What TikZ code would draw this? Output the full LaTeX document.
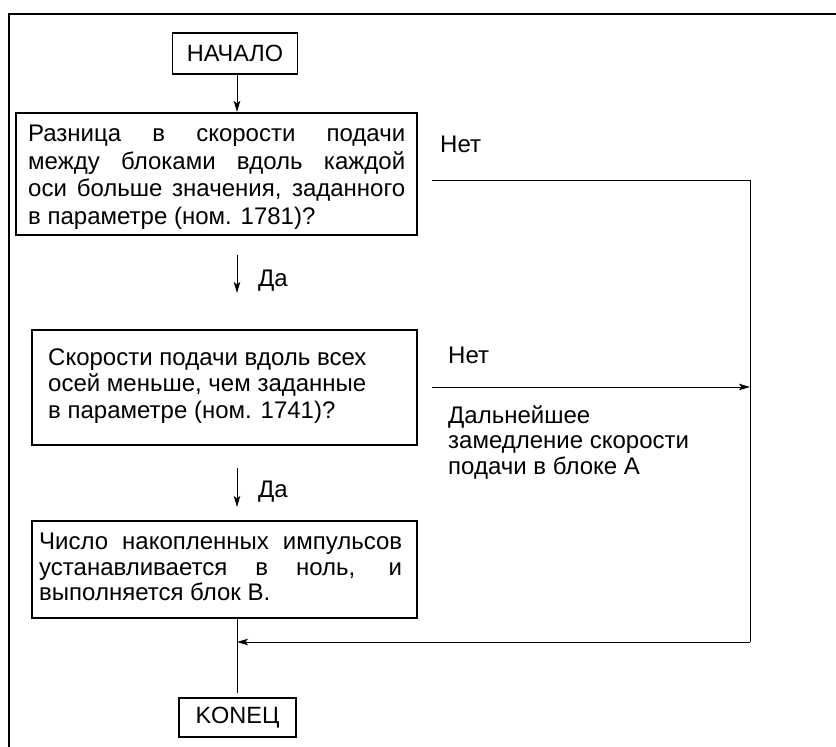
\documentclass[tikz,border=0pt]{standalone}
\usepackage{fontspec}
\setmainfont{Liberation Sans}
\usetikzlibrary{arrows.meta}
\tikzset{
  txt/.style={anchor=base west, inner sep=0pt, font=\fontsize{24}{28}\selectfont},
  termbox/.style={draw, line width=1.6pt, rectangle, inner sep=0pt, font=\fontsize{23.5}{28}\selectfont},
  qbox/.style={draw, line width=2pt, rectangle, inner sep=0pt},
  conn/.style={line width=1pt},
  arr/.style={line width=1pt, -{Stealth[length=11pt,width=6.5pt,inset=2.5pt]}},
  frame/.style={line width=2.2pt}
}
\begin{document}
\begin{tikzpicture}[x=1pt,y=-1pt]
\useasboundingbox (0,0) rectangle (836,747);
% outer frame (top and left visible)
\coordinate (fbl) at (9,747);
\coordinate (ftl) at (9,14);
\coordinate (ftr) at (836,14);
\draw[frame] (fbl) -- (ftl) -- (ftr);

% terminal boxes
\node[termbox, minimum width=125pt, minimum height=41pt] (start) at (235,53.5) {НАЧАЛО};
\node[termbox, minimum width=117pt, minimum height=39pt] (stop) at (237.5,717.5) {KONEЦ};

% question / action boxes
\node[qbox, line width=2.2pt, minimum width=401pt, minimum height=122pt] (q1) at (216.5,174) {};
\node[qbox, line width=1.8pt, minimum width=385pt, minimum height=115pt] (q2) at (224.5,387.5) {};
\node[qbox, line width=1.8pt, minimum width=385pt, minimum height=97pt] (q3) at (224.5,569.5) {};

% box 1 text
\node[txt] (q1a) at (28,141.5) {\makebox[377pt][s]{Разница в скорости подачи}};
\node[txt] (q1b) at (28,169) {\makebox[377pt][s]{между блоками вдоль каждой}};
\node[txt] (q1c) at (28,196.5) {\makebox[377pt][s]{оси больше значения, заданного}};
\node[txt] (q1d) at (28,224) {в параметре (ном. 1781)?};

% box 2 text
\node[txt] (q2a) at (48,365) {Скорости подачи вдоль всех};
\node[txt] (q2b) at (48,391.5) {осей меньше, чем заданные};
\node[txt] (q2c) at (48,418) {в параметре (ном. 1741)?};

% box 3 text
\node[txt] (q3a) at (39,549) {\makebox[363pt][s]{Число накопленных импульсов}};
\node[txt] (q3b) at (39,575) {\makebox[363pt][s]{устанавливается в ноль, и}};
\node[txt] (q3c) at (39,600.5) {выполняется блок В.};

% labels
\node[txt] (no1) at (440,152) {Нет};
\node[txt] (yes1) at (258,286) {Да};
\node[txt] (no2) at (448,363) {Нет};
\node[txt] (yes2) at (258,497) {Да};
\node[txt] (na) at (448,423) {Дальнейшее};
\node[txt] (nb) at (448,448.5) {замедление скорости};
\node[txt] (nc) at (448,474) {подачи в блоке А};

% coordinates for free ends
\coordinate (y1a) at (237,255);
\coordinate (y1b) at (237,293);
\coordinate (y2a) at (237,468);
\coordinate (y2b) at (237,507);
\coordinate (n1a) at (432,180);
\coordinate (c1) at (750,180);
\coordinate (n2a) at (432,387);
\coordinate (c2) at (750,642);
\coordinate (m) at (237,642);
\coordinate (etop) at (237,693);

% connectors
\draw[arr] (start.south -| y1a) -- (y1a |- q1.north);
\draw[arr] (y1a) -- (y1b);
\draw[arr] (y2a) -- (y2b);
\draw[conn] (n1a) -- (c1) -- (c2);
\draw[arr] (c2) -- (m);
\draw[arr] (n2a) -- (c1 |- n2a);
\draw[conn] (q3.south -| m) -- (etop);
\end{tikzpicture}
\end{document}
